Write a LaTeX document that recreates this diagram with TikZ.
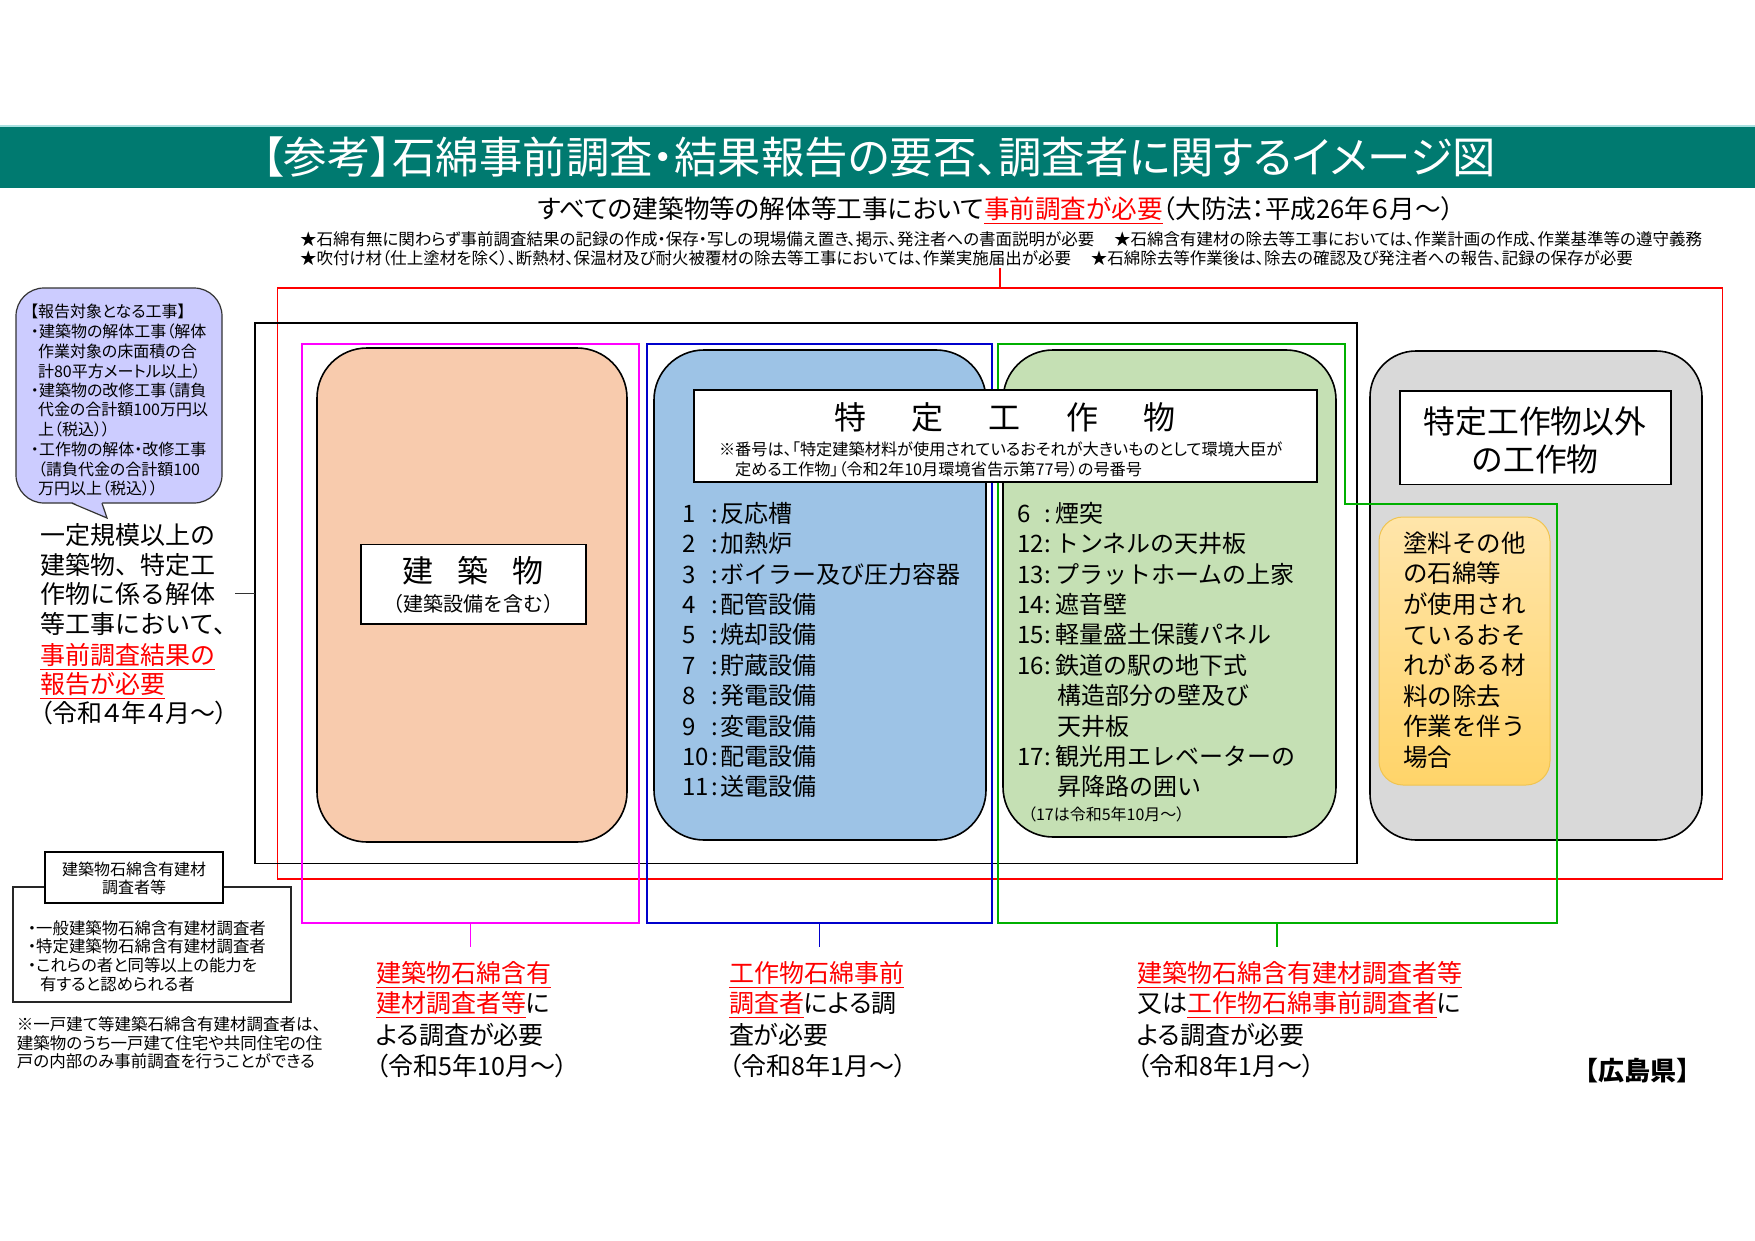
\documentclass[tikz,border=0pt]{standalone}
\usepackage{fontspec}
\setmainfont{Noto Sans CJK JP}
\newfontfamily\pf{Noto Sans CJK JP}[RawFeature=+palt]
\definecolor{teal1}{RGB}{0,122,112}
\definecolor{peach}{RGB}{248,203,173}
\definecolor{bluef}{RGB}{157,195,230}
\definecolor{greenf}{RGB}{197,224,180}
\definecolor{greyf}{RGB}{217,217,217}
\definecolor{lav}{RGB}{204,204,255}
\definecolor{yel1}{RGB}{255,229,170}
\definecolor{yel2}{RGB}{255,212,105}
\definecolor{yelb}{RGB}{240,196,80}
\definecolor{redt}{RGB}{255,0,0}
\definecolor{mag}{RGB}{255,0,255}
\definecolor{bluel}{RGB}{0,0,204}
\definecolor{greenl}{RGB}{0,176,0}
\definecolor{bandline}{RGB}{170,225,225}
\newcommand\rul[1]{\textcolor{redt}{\underline{#1}}}
\newcommand\fsz[1]{\fontsize{#1}{#1}\selectfont}
\begin{document}
\begin{tikzpicture}[x=0.5pt,y=-0.5pt,
  every node/.style={inner sep=0pt,outer sep=0pt},
  framebox/.style={draw=#1,line width=0.8pt,rectangle},
  rbox/.style={draw=black,line width=0.8pt,rounded corners=#1},
  wbox/.style={draw=black,fill=white,line width=0.6pt},
  lt/.style={anchor=west,text height=0.86em,text depth=0.14em},
  lst/.style={lt,font=\fsz{12pt}},
  bot/.style={lt,font=\pf\fsz{12.5pt}}]
\useasboundingbox (0,0) rectangle (1755,1241);
\fill[white] (0,0) rectangle (1755,1241);
% title band
\node[fill=teal1,minimum width=877.5pt,minimum height=31pt,anchor=north west] (band) at (0,126) {};
\draw[bandline,line width=0.6pt] (band.north west) -- (band.north east);
\node[text=white,font=\pf\fsz{21.7pt}] (title) at (879,157) {【参考】石綿事前調査・結果報告の要否、調査者に関するイメージ図};
% subtitle and notes
\node[font=\pf\fsz{12.8pt},text height=0.86em,text depth=0.14em] (sub) at (996,211) {すべての建築物等の解体等工事において\rul{事前調査が必要}（大防法：平成26年６月～）};
\node[lt,font=\pf\fsz{8.25pt}] (star1) at (300,238) {★石綿有無に関わらず事前調査結果の記録の作成・保存・写しの現場備え置き、掲示、発注者への書面説明が必要\hspace{1.2em}★石綿含有建材の除去等工事においては、作業計画の作成、作業基準等の遵守義務};
\node[lt,font=\pf\fsz{8.25pt}] (star2) at (300,257) {★吹付け材（仕上塗材を除く）、断熱材、保温材及び耐火被覆材の除去等工事においては、作業実施届出が必要\hspace{1.2em}★石綿除去等作業後は、除去の確認及び発注者への報告、記録の保存が必要};
% frames
\node[framebox=redt,minimum width=722.5pt,minimum height=295.5pt] (redf) at (1000,583.5) {};
\coordinate (redtick) at (1000,268);
\draw[redt,line width=0.6pt] (redtick) -- (redf.north);
\node[framebox=black,minimum width=551pt,minimum height=270.25pt] (blkf) at (806,593.25) {};
\node[framebox=mag,minimum width=168.5pt,minimum height=289.5pt] (magf) at (470.5,633.5) {};
\coordinate (magt) at (470.5,947);
\draw[mag,line width=0.6pt] (magf.south) -- (magt);
\node[framebox=bluel,minimum width=172.5pt,minimum height=289.5pt] (bluf) at (819.5,633.5) {};
\coordinate (blut) at (819.5,947);
\draw[bluel,line width=0.6pt] (bluf.south) -- (blut);
% rounded boxes
\node[rbox=25pt,fill=peach,minimum width=155pt,minimum height=247pt] (bldg) at (472,595) {};
\node[rbox=25pt,fill=bluef,minimum width=166pt,minimum height=245pt] (tokb) at (820,595) {};
\node[rbox=25pt,fill=greenf,minimum width=166.5pt,minimum height=243.5pt] (tokg) at (1169.5,593.5) {};
\node[rbox=23pt,fill=greyf,minimum width=166pt,minimum height=244.5pt] (other) at (1536,595.5) {};
\node[draw=yelb,line width=0.5pt,rounded corners=12pt,top color=yel1,bottom color=yel2,minimum width=85.5pt,minimum height=134pt] (paint) at (1464.5,651) {};
% green frame
\coordinate (g1) at (998,344);
\coordinate (g2) at (1345,344);
\coordinate (g3) at (1345,504);
\coordinate (g4) at (1557,504);
\coordinate (g5) at (1557,923);
\coordinate (g6) at (998,923);
\draw[greenl,line width=0.8pt] (g1) -- (g2) -- (g3) -- (g4) -- (g5) -- (g6) -- cycle;
\coordinate (grnb) at (1277,923);
\coordinate (grnt) at (1277,947);
\draw[greenl,line width=0.6pt] (grnb) -- (grnt);
% building header
\node[wbox,minimum width=112.5pt,minimum height=39.75pt] (bldgh) at (473.5,584.25) {};
\node[font=\fsz{15.5pt}] (bldgt) at (473,571) {建\hspace{12pt}築\hspace{12pt}物};
\node[font=\fsz{10pt}] (bldgs) at (473,604) {（建築設備を含む）};
% tokutei header
\node[wbox,minimum width=311.5pt,minimum height=46pt] (tokh) at (1005.5,436) {};
\node[font=\fsz{16pt}] (tokt) at (1005,417) {特\hspace{22.75pt}定\hspace{22.75pt}工\hspace{22.75pt}作\hspace{22.75pt}物};
\node[lt,font=\pf\fsz{8.1pt}] (tokn1) at (719,448) {※番号は、「特定建築材料が使用されているおそれが大きいものとして環境大臣が};
\node[lt,font=\pf\fsz{8.1pt}] (tokn2) at (735,468) {定める工作物」（令和2年10月環境省告示第77号）の号番号};
% other header
\node[wbox,minimum width=135.5pt,minimum height=46.75pt] (othh) at (1535.5,437.75) {};
\node[font=\fsz{15.9pt}] (otht1) at (1535,421) {特定工作物以外};
\node[font=\fsz{15.9pt}] (otht2) at (1535,459) {の工作物};
% blue list
\foreach \n/\t [count=\i] in {1/反応槽,2/加熱炉,3/ボイラー及び圧力容器,4/配管設備,5/焼却設備,7/貯蔵設備,8/発電設備,9/変電設備,10/配電設備,11/送電設備}
  \node[lst] (b\i) at (682,{515+30.4*(\i-1)}) {\makebox[14.5pt][l]{\n}\makebox[4.5pt][l]{:}\t};
% green list
\foreach \n/\t/\k in {6/煙突/1,12/トンネルの天井板/2,13/プラットホームの上家/3,14/遮音壁/4,15/軽量盛土保護パネル/5,16/鉄道の駅の地下式/6,17/観光用エレベーターの/9}
  \node[lst] (g\k) at (1017,{515+30.4*(\k-1)}) {\makebox[13.5pt][l]{\n}\makebox[5.5pt][l]{:}\t};
\node[lst] (gc7) at (1057,{515+30.4*6}) {構造部分の壁及び};
\node[lst] (gc8) at (1057,{515+30.4*7}) {天井板};
\node[lst] (gc10) at (1057,{515+30.4*9}) {昇降路の囲い};
\node[lt,font=\pf\fsz{8pt}] (gnote) at (1028,813) {（17は令和5年10月～）};
% paint box text
\foreach \t [count=\i] in {塗料その他,の石綿等,が使用され,ているおそ,れがある材,料の除去,作業を伴う,場合}
  \node[lt,font=\fsz{12.25pt}] (p\i) at (1403,{545+30.6*(\i-1)}) {\t};
% callout bubble
\node[draw=black!80,line width=0.6pt,fill=lav,rounded corners=14pt,minimum width=103pt,minimum height=107.5pt] (bub) at (119,395.5) {};
\fill[lav] (72,502) -- (107,518) -- (102,502) -- cycle;
\draw[black!80,line width=0.6pt] (72,503.2) -- (107,518) -- (102,503.2);
\node[lt,font=\pf\fsz{8pt}] (c1) at (30,310) {【報告対象となる工事】};
\node[lt,font=\pf\fsz{8pt}] (c2) at (31,330) {・建築物の解体工事（解体};
\node[lt,font=\pf\fsz{8pt}] (c3) at (38,350) {作業対象の床面積の合};
\node[lt,font=\pf\fsz{8pt}] (c4) at (38,370) {計80平方メートル以上）};
\node[lt,font=\pf\fsz{8pt}] (c5) at (31,389) {・建築物の改修工事（請負};
\node[lt,font=\pf\fsz{8pt}] (c6) at (38,408) {代金の合計額100万円以};
\node[lt,font=\pf\fsz{8pt}] (c7) at (38,428) {上（税込））};
\node[lt,font=\pf\fsz{8pt}] (c8) at (31,448) {・工作物の解体・改修工事};
\node[lt,font=\pf\fsz{8pt}] (c9) at (38,468) {（請負代金の合計額100};
\node[lt,font=\pf\fsz{8pt}] (c10) at (38,487) {万円以上（税込））};
% left text
\node[lt,font=\fsz{12.5pt}] (l1) at (40,537) {一定規模以上の};
\node[lt,font=\fsz{12.5pt}] (l2) at (40,567) {建築物、特定工};
\node[lt,font=\fsz{12.5pt}] (l3) at (40,596) {作物に係る解体};
\node[lt,font=\fsz{12.5pt}] (l4) at (40,626) {等工事において、};
\node[lt,font=\fsz{12.5pt}] (l5) at (40,657) {\rul{事前調査結果の}};
\node[lt,font=\fsz{12.5pt}] (l6) at (40,686) {\rul{報告が必要}};
\node[lt,font=\pf\fsz{12.5pt}] (l7) at (40,715) {（令和４年４月～）};
\coordinate (ltk) at (235,593);
\draw[black!80,line width=0.5pt] (ltk) -- (ltk -| blkf.west);
% bottom-left boxes
\node[draw=black!85,line width=0.6pt,minimum width=139pt,minimum height=57.5pt] (qbig) at (152,944.5) {};
\node[wbox,minimum width=89pt,minimum height=25.5pt] (qsm) at (134,877.5) {};
\node[font=\pf\fsz{8pt}] (qs1) at (134,869) {建築物石綿含有建材};
\node[font=\pf\fsz{8pt}] (qs2) at (134,887) {調査者等};
\node[lt,font=\pf\fsz{8.2pt}] (q1) at (28,927) {・一般建築物石綿含有建材調査者};
\node[lt,font=\pf\fsz{8.2pt}] (q2) at (28,945) {・特定建築物石綿含有建材調査者};
\node[lt,font=\pf\fsz{8.2pt}] (q3) at (28,964) {・これらの者と同等以上の能力を};
\node[lt,font=\pf\fsz{8.2pt}] (q4) at (40,983) {有すると認められる者};
\node[lt,font=\pf\fsz{8.25pt}] (n1) at (17,1023) {※一戸建て等建築石綿含有建材調査者は、};
\node[lt,font=\pf\fsz{8.25pt}] (n2) at (17,1042) {建築物のうち一戸建て住宅や共同住宅の住};
\node[lt,font=\pf\fsz{8.25pt}] (n3) at (17,1060) {戸の内部のみ事前調査を行うことができる};
% bottom columns
\node[bot] (a1) at (376,975) {\rul{建築物石綿含有}};
\node[bot] (a2) at (376,1005) {\rul{建材調査者等}に};
\node[bot] (a3) at (376,1037) {よる調査が必要};
\node[bot] (a4) at (376,1068) {（令和5年10月～）};
\node[bot] (b1t) at (729,975) {\rul{工作物石綿事前}};
\node[bot] (b2t) at (729,1005) {\rul{調査者}による調};
\node[bot] (b3t) at (729,1037) {査が必要};
\node[bot] (b4t) at (729,1068) {（令和8年1月～）};
\node[bot] (c1t) at (1137,975) {\rul{建築物石綿含有建材調査者等}};
\node[bot] (c2t) at (1137,1005) {又は\rul{工作物石綿事前調査者}に};
\node[bot] (c3t) at (1137,1037) {よる調査が必要};
\node[bot] (c4t) at (1137,1068) {（令和8年1月～）};
\node[lt,font=\bfseries\fsz{13pt}] (pref) at (1572,1073) {【広島県】};
\end{tikzpicture}
\end{document}
